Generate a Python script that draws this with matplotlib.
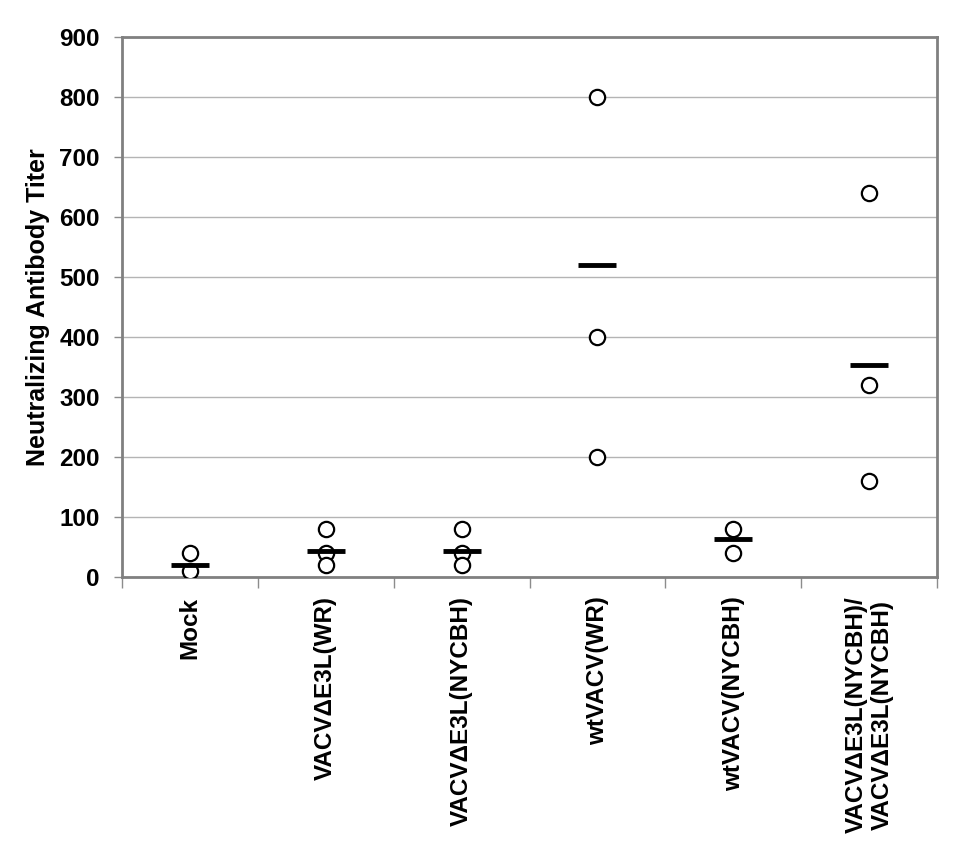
import numpy as np
import matplotlib.pyplot as plt

plt.rcParams['font.family'] = ['Liberation Sans', 'DejaVu Sans']
plt.rcParams['font.weight'] = 'bold'

groups = ['Mock', 'VACV\u0394E3L(WR)', 'VACV\u0394E3L(NYCBH)', 'wtVACV(WR)',
          'wtVACV(NYCBH)', 'VACV\u0394E3L(NYCBH)/\nVACV\u0394E3L(NYCBH)']
points = [
    [40, 10],
    [80, 40, 20],
    [80, 40, 20],
    [800, 400, 200],
    [80, 40],
    [640, 320, 160],
]
means = [20, 43, 43, 520, 63, 353]
yticks = [0, 100, 200, 300, 400, 500, 600, 700, 800, 900]

fig = plt.figure(figsize=(9.57, 8.49), dpi=100)
ax = fig.add_axes([0.1275, 0.3204, 0.8516, 0.636])

for i, vals in enumerate(points):
    ax.plot([i] * len(vals), vals, 'o', ms=11, mfc='white', mec='black', mew=1.6,
            zorder=3)
ax.plot(range(len(means)), means, '_', ms=28, mew=3.5, color='black', zorder=4)

ax.set_xlim(-0.5, len(groups) - 0.5)
ax.set_ylim(0, 900)
ax.set_yticks(yticks)
ax.set_yticklabels([str(v) for v in yticks], fontsize=17.5, fontweight='bold')
ax.yaxis.grid(True, color='#b4b4b4', lw=1)
ax.set_axisbelow(True)

ax.set_xticks(range(len(groups)))
ax.set_xticklabels(groups, rotation=90, fontsize=17.5, fontweight='bold',
                   va='top', ha='center', multialignment='center', linespacing=1.15)
ax.set_xticks(np.arange(-0.5, len(groups), 1), minor=True)
ax.tick_params(axis='x', which='major', length=0, pad=14)
ax.tick_params(axis='x', which='minor', length=8, color='#8c8c8c', width=1)
ax.tick_params(axis='y', length=6, color='#8c8c8c', width=1, pad=10)

for s in ax.spines.values():
    s.set_color('#808080')
    s.set_linewidth(2)

ax.set_ylabel('Neutralizing Antibody Titer', fontsize=18, fontweight='bold', labelpad=7)

fig.savefig('out.png', dpi=100)
